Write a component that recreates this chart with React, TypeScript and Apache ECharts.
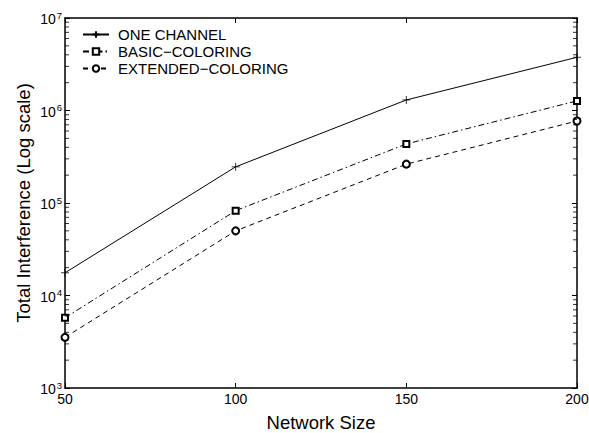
import React, { useEffect, useRef } from "react";
import * as echarts from "echarts";

const networkSizes = [50, 100, 150, 200];
const oneChannel = [17600, 246000, 1300000, 3760000];
const basicColoring = [5750, 82600, 435000, 1270000];
const extendedColoring = [3530, 50000, 263000, 770000];
const seriesNames = ["ONE CHANNEL", "BASIC\u2212COLORING", "EXTENDED\u2212COLORING"];
const minorTickValues: number[] = [];
for (let e = 3; e < 7; e++) for (let m = 2; m <= 9; m++) minorTickValues.push(m * Math.pow(10, e));

const FONT = "Liberation Sans, Arial, Helvetica, sans-serif";

export default function App() {
  const ref = useRef<HTMLDivElement>(null);
  useEffect(() => {
    const chart = echarts.init(ref.current!, null, { renderer: "svg" });
    const pairs = (ys: number[]) => networkSizes.map((x, i) => [x, ys[i]]);
    const lineSeries = (name: string, ys: number[], symbol: string, size: number, type: any) => ({
      name,
      type: "line",
      data: pairs(ys),
      symbol,
      symbolSize: size,
      showSymbol: true,
      lineStyle: { color: "#000", width: 1, type },
      itemStyle: { color: "#000", borderColor: "#000", borderWidth: 0.8 },
      emphasis: { disabled: true },
      z: 3,
    });
    const tickSeries = (xVal: number, offset: number) => ({
      type: "scatter",
      silent: true,
      clip: false,
      symbol: "rect",
      symbolSize: [4, 1],
      symbolOffset: [offset, 0],
      itemStyle: { color: "#000" },
      emphasis: { disabled: true },
      data: minorTickValues.map((v) => [xVal, v]),
      z: 5,
    });
    const majorTick = { show: true, inside: true, length: 5, lineStyle: { color: "#000", width: 1 } };
    chart.setOption({
      animation: false,
      backgroundColor: "#fff",
      textStyle: { fontFamily: FONT, color: "#000" },
      grid: { left: 65, right: 12, top: 18, bottom: 45, containLabel: false, outerBoundsMode: "none" },
      legend: {
        data: seriesNames,
        orient: "vertical",
        left: 77,
        top: 22,
        itemWidth: 26,
        itemHeight: 8,
        itemGap: 2,
        textStyle: { fontSize: 15, color: "#000", fontFamily: FONT, padding: [0, 0, 0, 4] },
        selectedMode: false,
      },
      xAxis: [
        {
          type: "value",
          min: 50,
          max: 200,
          interval: 50,
          position: "bottom",
          name: "Network Size",
          nameLocation: "middle",
          nameGap: 25,
          nameMoveOverlap: false,
          nameTextStyle: { fontSize: 18.5, color: "#000", fontFamily: FONT },
          axisLine: { show: true, lineStyle: { color: "#000", width: 1.5 } },
          axisTick: majorTick,
          axisLabel: { fontSize: 14, color: "#000", margin: 4, fontFamily: FONT },
          splitLine: { show: false },
        },
        {
          type: "value",
          min: 50,
          max: 200,
          interval: 50,
          position: "top",
          axisLine: { show: true, lineStyle: { color: "#000", width: 1.5 } },
          axisTick: majorTick,
          axisLabel: { show: false },
          splitLine: { show: false },
        },
      ],
      yAxis: [
        {
          type: "log",
          logBase: 10,
          min: 1000,
          max: 10000000,
          position: "left",
          name: "Total Interference (Log scale)",
          nameLocation: "middle",
          nameGap: 32,
          nameMoveOverlap: false,
          nameTextStyle: { fontSize: 18.5, color: "#000", fontFamily: FONT },
          axisLine: { show: true, lineStyle: { color: "#000", width: 1.5 } },
          axisTick: majorTick,
          axisLabel: {
            margin: 3,
            formatter: (v: number) => `{b|10}{s|${Math.round(Math.log10(v))}}`,
            rich: {
              b: { fontSize: 14, color: "#000", fontFamily: FONT, verticalAlign: "bottom" },
              s: { fontSize: 9.5, color: "#000", fontFamily: FONT, verticalAlign: "top", padding: [0, 0, 6, 1] },
            },
          },
          splitLine: { show: false },
        },
        {
          type: "log",
          logBase: 10,
          min: 1000,
          max: 10000000,
          position: "right",
          axisLine: { show: true, lineStyle: { color: "#000", width: 1.5 } },
          axisTick: majorTick,
          axisLabel: { show: false },
          splitLine: { show: false },
        },
      ],
      series: [
        lineSeries(seriesNames[0], oneChannel, "path://M5,0L5,10M0,5L10,5", 8, "solid"),
        lineSeries(seriesNames[1], basicColoring, "emptyRect", 6, [6, 3, 1.5, 3]),
        lineSeries(seriesNames[2], extendedColoring, "emptyCircle", 7, [5, 4]),
        tickSeries(networkSizes[0], 2),
        tickSeries(networkSizes[networkSizes.length - 1], -2),
      ],
    });
    return () => chart.dispose();
  }, []);
  return <div ref={ref} style={{ width: 589, height: 433, position: "absolute", left: 0, top: 0 }} />;
}
